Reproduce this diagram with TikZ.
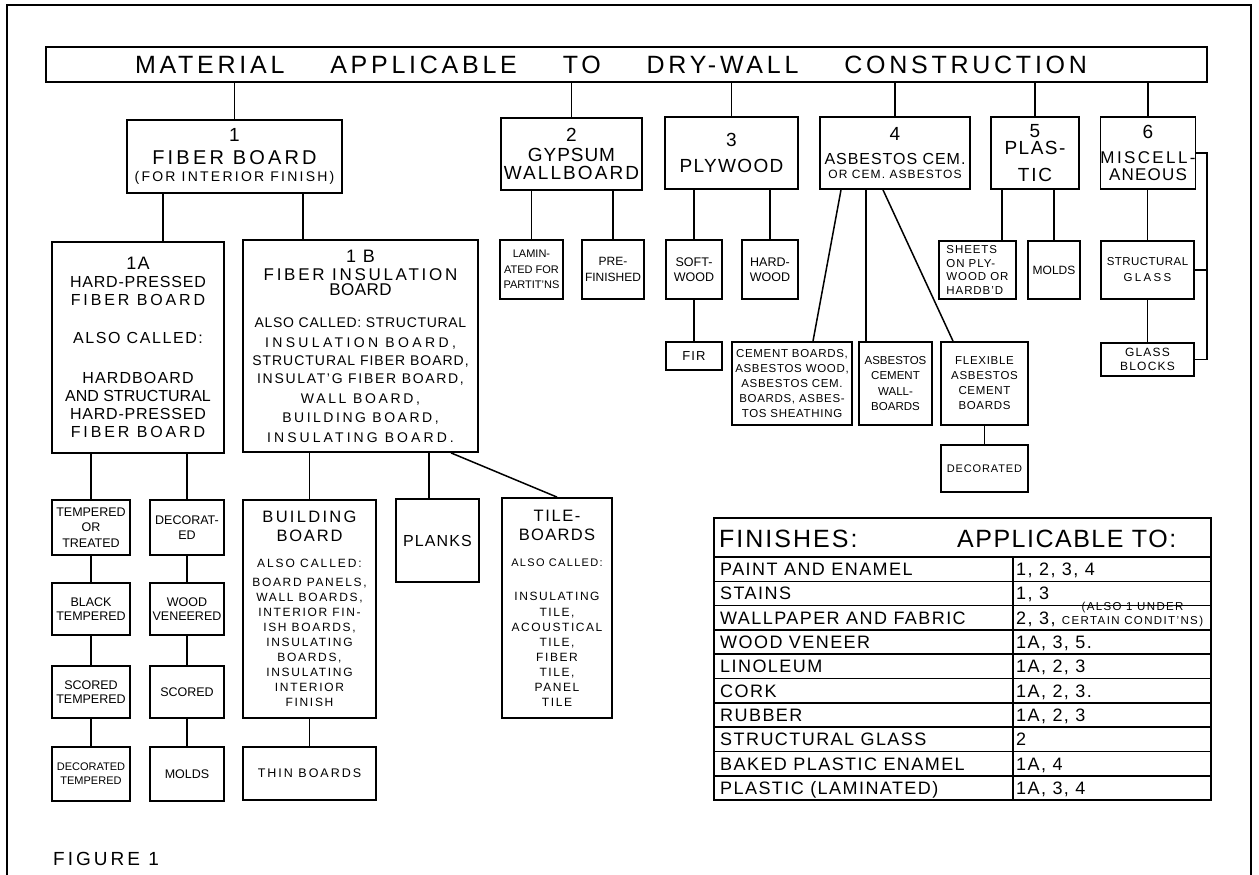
\documentclass[tikz,border=0pt]{standalone}
\usepackage{fontspec}
\setmainfont{Liberation Sans}
\newcommand{\fs}[2]{\fontsize{#1}{#2}\selectfont}
\newcommand{\ls}[1]{\addfontfeature{LetterSpace=#1}}

\begin{document}
\begin{tikzpicture}[x=1pt, y=-1pt,
  cbox/.style={draw, line width=1.8pt, align=center, inner sep=0pt},
  conn/.style={line width=1.5pt},
  tline/.style={line width=1.6pt},
  rowtxt/.style={anchor=base west, inner sep=0pt, font=\fs{18}{18}\ls{8}}
]
\useasboundingbox (0,0) rectangle (1259,875);
\draw[line width=1.4pt] (7,875) -- (7,5) -- (1251,5) -- (1251,875);

% title
\node[cbox, line width=1.5pt, minimum width=1161pt, minimum height=35pt, font=\fs{25}{25}\ls{15}] (title) at (626.5,64.5)
  {\makebox[952pt][s]{MATERIAL\hfill APPLICABLE\hfill TO\hfill DRY-WALL\hfill CONSTRUCTION}\hspace*{31pt}};

% main groups
\node[cbox, minimum width=215pt, minimum height=73pt, font=\fs{20}{23}] (fiber) at (234.5,156.5)
  {{\fs{19}{19}1}\\{\ls{16}FIBER BOARD}\\[-6.5pt]{\fs{14}{14}\ls{16}(FOR INTERIOR FINISH)}};
\node[cbox, minimum width=141pt, minimum height=72pt, font=\fs{19}{20}] (gypsum) at (571.5,154)
  {2\\{\ls{5}GYPSUM}\\[-2pt]{\ls{11}WALLBOARD}};
\node[cbox, minimum width=133pt, minimum height=72pt, font=\fs{19}{26}] (plywood) at (731.5,153)
  {3\\{\ls{7}PLYWOOD}};
\node[cbox, minimum width=150pt, minimum height=72pt, font=\fs{19}{24}] (asbestos) at (895,153)
  {4\\{\fs{16}{16}\ls{6}ASBESTOS CEM.}\\[-10.5pt]{\fs{12}{12}\ls{9}OR CEM. ASBESTOS}};
\node[cbox, minimum width=88pt, minimum height=72pt, font=\fs{19}{17}] (plastic) at (1035,153)
  {5\\{\ls{8}PLAS-}\\[10pt]{\ls{10}TIC}};
\node[cbox, minimum width=94pt, minimum height=72pt, font=\fs{17}{25.5}] (misc) at (1148,153)
  {{\fs{19}{19}6}\\{\ls{14}MISCELL-}\\[-8.5pt]{\ls{7}ANEOUS}};

\foreach \grp in {fiber, gypsum, plywood, asbestos, plastic, misc}
  \draw[conn] (\grp.north) -- (\grp.north |- title.south);

% fiber board
\node[cbox, minimum width=172pt, minimum height=211pt, font=\fs{16}{18}] (hardpr) at (138,347.5)
  {{\fs{18}{18}\ls{8}1A}\\{\ls{5}HARD-PRESSED}\\{\ls{18}FIBER BOARD}\\[20pt]{\ls{10}ALSO CALLED:}\\[22pt]
   {\ls{7}HARDBOARD}\\AND STRUCTURAL\\{\ls{5}HARD-PRESSED}\\{\ls{18}FIBER BOARD}};
\node[cbox, minimum width=235pt, minimum height=212pt, font=\fs{14}{18}] (insul) at (360.5,346)
  {{\fs{18}{18}\ls{10}1 B}\\{\fs{17}{17}\ls{16}FIBER INSULATION}\\[-3pt]{\fs{17}{17}\ls{3}BOARD}\\[14pt]
   {\ls{5}ALSO CALLED: STRUCTURAL}\\[2pt]{\ls{24}INSULATION BOARD,}\\{\ls{7}STRUCTURAL FIBER BOARD,}\\
   {\ls{12}INSULAT'G FIBER BOARD,}\\[2pt]{\ls{19}WALL BOARD,}\\[1pt]{\ls{18}BUILDING BOARD,}\\[2pt]
   {\ls{22}INSULATING BOARD.}};
\draw[conn] (fiber.south -| 163,0) -- (hardpr.north -| 163,0);
\draw[conn] (fiber.south -| 303,0) -- (insul.north -| 303,0);

% hard-pressed kinds
\node[cbox, minimum width=78pt, minimum height=55pt, font=\fs{12.5}{15.5}] (tempered) at (91,527.5) {TEMPERED\\OR\\TREATED};
\node[cbox, minimum width=74pt, minimum height=55pt, font=\fs{12.5}{15.5}] (decorated) at (187,527.5) {DECORAT-\\ED};
\node[cbox, minimum width=78pt, minimum height=52pt, font=\fs{12.5}{14.5}] (black) at (91,609) {BLACK\\TEMPERED};
\node[cbox, minimum width=74pt, minimum height=52pt, font=\fs{12.5}{14.5}] (veneered) at (187,609) {WOOD\\VENEERED};
\node[cbox, minimum width=78pt, minimum height=52pt, font=\fs{12.5}{14.5}] (scoredt) at (91,692) {SCORED\\TEMPERED};
\node[cbox, minimum width=74pt, minimum height=52pt, font=\fs{12.5}{14.5}] (scored) at (187,692) {SCORED};
\node[cbox, minimum width=78pt, minimum height=54pt, font=\fs{11}{14}] (decot) at (91,774) {DECORATED\\TEMPERED};
\node[cbox, minimum width=74pt, minimum height=54pt, font=\fs{12.5}{14.5}] (moldsa) at (187,774) {MOLDS};
\draw[conn] (hardpr.south -| tempered.north) -- (tempered.north);
\draw[conn] (hardpr.south -| decorated.north) -- (decorated.north);
\draw[conn] (tempered) -- (black) -- (scoredt) -- (decot);
\draw[conn] (decorated) -- (veneered) -- (scored) -- (moldsa);

% insulation board kinds
\node[cbox, minimum width=133pt, minimum height=218pt, font=\fs{12}{15}\ls{14}] (building) at (309.5,609)
  {{\fs{16.5}{16.5}\ls{14}BUILDING}\\[4pt]{\fs{16.5}{16.5}\ls{11}BOARD}\\[11pt]{\ls{16}ALSO CALLED:}\\[4pt]
   BOARD PANELS,\\WALL BOARDS,\\INTERIOR FIN-\\ISH BOARDS,\\INSULATING\\BOARDS,\\INSULATING\\INTERIOR\\FINISH};
\node[cbox, minimum width=133pt, minimum height=53pt, font=\fs{12.5}{14}\ls{16}] (thin) at (309.5,773.5) {THIN BOARDS};
\node[cbox, minimum width=83pt, minimum height=83pt, font=\fs{16}{16}\ls{7}] (planks) at (437.5,540.5) {PLANKS};
\node[cbox, minimum width=110pt, minimum height=220pt, font=\fs{12}{15}\ls{13}] (tile) at (557,608)
  {{\fs{16.5}{16.5}\ls{10}TILE-}\\[4pt]{\fs{16.5}{16.5}\ls{8}BOARDS}\\[11pt]{\fs{11}{11}\ls{12}ALSO CALLED:}\\[19pt]
   INSULATING\\[1pt]TILE,\\ACOUSTICAL\\TILE,\\FIBER\\TILE,\\PANEL\\TILE};
\draw[conn] (insul.south -| building.north) -- (building.north);
\draw[conn] (building) -- (thin);
\draw[conn] (insul.south -| 429,0) -- (planks.north -| 429,0);
\draw[conn] (insul.south -| 451,0) -- (tile.north);

% gypsum, plywood
\node[cbox, minimum width=63pt, minimum height=59pt, font=\fs{11}{15.5}] (laminated) at (531.5,269.5) {LAMIN-\\ATED FOR\\PARTIT'NS};
\node[cbox, minimum width=62pt, minimum height=59pt, font=\fs{12}{16}] (prefin) at (613,269.5) {PRE-\\FINISHED};
\node[cbox, minimum width=56pt, minimum height=59pt, font=\fs{12.5}{15}] (softwood) at (694,269.5) {SOFT-\\WOOD};
\node[cbox, minimum width=56pt, minimum height=59pt, font=\fs{12.5}{15}] (hardwood) at (770,269.5) {HARD-\\WOOD};
\node[cbox, minimum width=56pt, minimum height=28pt, font=\fs{13}{13}\ls{8}] (fir) at (694,356) {FIR};
\draw[conn] (gypsum.south -| laminated.north) -- (laminated.north);
\draw[conn] (gypsum.south -| prefin.north) -- (prefin.north);
\draw[conn] (plywood.south -| softwood.north) -- (softwood.north);
\draw[conn] (plywood.south -| hardwood.north) -- (hardwood.north);
\draw[conn] (softwood) -- (fir);

% asbestos cement
\node[cbox, minimum width=120pt, minimum height=83pt, font=\fs{11.5}{15.2}\ls{6}] (cement) at (792,383.5)
  {CEMENT BOARDS,\\ASBESTOS WOOD,\\ASBESTOS CEM.\\BOARDS, ASBES-\\TOS SHEATHING};
\node[cbox, minimum width=73pt, minimum height=83pt, font=\fs{11.5}{15.3}] (acwall) at (895.5,383.5) {ASBESTOS\\CEMENT\\WALL-\\BOARDS};
\node[cbox, minimum width=87pt, minimum height=83pt, font=\fs{11.5}{15}\ls{6}] (flexible) at (984.5,383.5) {FLEXIBLE\\ASBESTOS\\CEMENT\\BOARDS};
\node[cbox, minimum width=87pt, minimum height=47pt, font=\fs{11}{11}\ls{8}] (decoasb) at (984.5,468.5) {DECORATED};
\draw[conn] (asbestos.south -| 841,0) -- (cement.north -| 813,0);
\draw[conn] (asbestos.south -| 866,0) -- (acwall.north -| 866,0);
\draw[conn] (asbestos.south -| 883,0) -- (flexible.north -| 953,0);
\draw[conn] (flexible) -- (decoasb);

% plastic, miscellaneous
\node[cbox, minimum width=77pt, minimum height=58pt, align=left, font=\fs{11.5}{13.7}\ls{8}] (sheets) at (977.5,270) {SHEETS\\ON PLY-\\WOOD OR\\HARDB'D};
\node[cbox, minimum width=52pt, minimum height=58pt, font=\fs{12}{12}] (moldsb) at (1054,270) {MOLDS};
\node[cbox, minimum width=93pt, minimum height=58pt, font=\fs{11.5}{16}\ls{4}] (sglass) at (1147.5,270) {STRUCTURAL\\{\ls{20}GLASS}};
\node[cbox, minimum width=93pt, minimum height=33pt, font=\fs{12}{14}\ls{10}] (blocks) at (1147.5,359.5) {GLASS\\BLOCKS};
\draw[conn] (plastic.south -| 1002,0) -- (sheets.north -| 1002,0);
\draw[conn] (plastic.south -| moldsb.north) -- (moldsb.north);
\draw[conn] (misc.south -| sglass.north) -- (sglass.north);
\draw[conn] (sglass) -- (blocks);
\coordinate (brk) at (1207,0);
\draw[conn] (misc.east) -- (misc.east -| brk) |- (blocks.east);
\draw[conn] (sglass.east) -- (sglass.east -| brk);

% finishes table
\draw[tline] (714,518) rectangle (1211,800);
\draw[tline] (714,557) -- (1211,557);
\draw[tline] (1013,557) -- (1013,800);
\foreach \i in {1,...,9}
  \draw[tline] (714,{557+24.3*\i}) -- (1211,{557+24.3*\i});
\node[anchor=base west, inner sep=0pt, font=\fs{25}{25}\ls{8}] (finhead) at (719,547) {FINISHES:};
\node[anchor=base west, inner sep=0pt, font=\fs{25}{25}\ls{6}] (apphead) at (957,547) {APPLICABLE TO:};
\foreach \fin/\app [count=\i] in {
    {PAINT AND ENAMEL}/{1, 2, 3, 4},
    {STAINS}/{1, 3},
    {WALLPAPER AND FABRIC}/{2, 3, {\fs{11.5}{10}\ls{12}\shortstack{(ALSO 1 UNDER\\CERTAIN CONDIT'NS)}}},
    {WOOD VENEER}/{1A, 3, 5.},
    {LINOLEUM}/{1A, 2, 3},
    {CORK}/{1A, 2, 3.},
    {RUBBER}/{1A, 2, 3},
    {STRUCTURAL GLASS}/{2},
    {BAKED PLASTIC ENAMEL}/{1A, 4},
    {PLASTIC (LAMINATED)}/{1A, 3, 4}} {
  \node[rowtxt] (fin\i) at (720,{557+24.3*(\i-0.5)+6.5}) {\fin};
  \node[rowtxt] (app\i) at (1016,{557+24.3*(\i-0.5)+6.5}) {\app};
}

\node[anchor=base west, inner sep=0pt, font=\fs{19}{19}\ls{16}] (figure) at (53,865) {FIGURE 1};
\end{tikzpicture}
\end{document}
